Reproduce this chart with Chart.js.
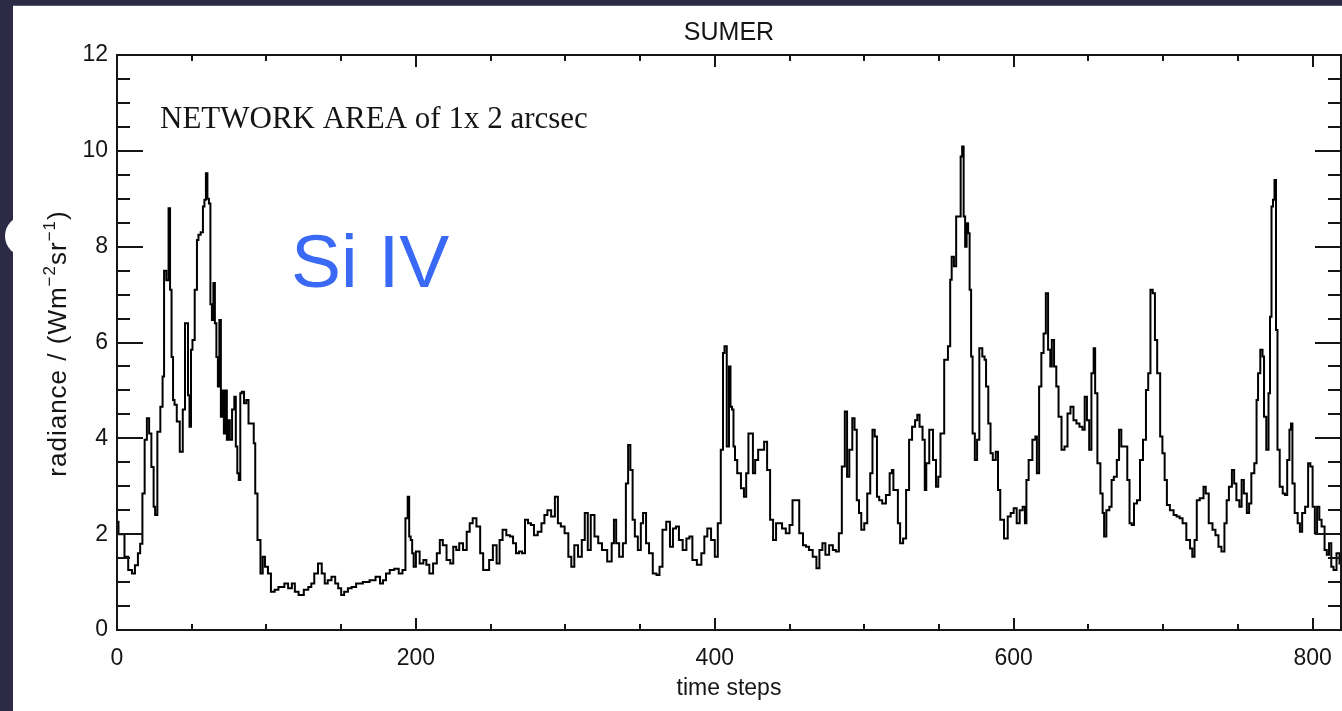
<!DOCTYPE html>
<html>
<head>
<meta charset="utf-8">
<title>SUMER Si IV network radiance</title>
<script src="https://cdn.jsdelivr.net/npm/chart.js@4.4.1/dist/chart.umd.min.js"></script>
<style>
  html, body { margin: 0; padding: 0; width: 1342px; height: 711px; overflow: hidden; background: #2c2a45; }
  #panel { position: absolute; left: 13px; top: 5px; right: 0; bottom: 0; background: #fff; border-top: 1px solid #5b5979; }
  #bump { position: absolute; left: 5px; top: 216px; width: 30px; height: 40px; background: #fff; border-radius: 20px 0 0 20px; }
  #wrap { position: absolute; left: 0; top: 0; width: 1342px; height: 711px; }
</style>
</head>
<body>
<div id="panel"></div>
<div id="bump"></div>
<div id="wrap"><canvas id="c" width="1342" height="711"></canvas></div>
<script>
// values (time step, radiance W m-2 sr-1)
const timeSteps = [
  0, 2, 4, 6, 9, 11, 13, 15, 16, 18, 19, 21, 22, 24, 25, 26, 28, 30, 31, 32,
  34, 35, 36, 37, 38, 39, 41, 43, 45, 46, 47, 48, 49, 50, 51, 53, 54, 55, 57, 58,
  59, 60, 61, 62, 63, 64, 65, 66, 67, 68, 69, 70, 71, 72, 73, 74, 75, 76, 78, 79,
  80, 81, 82, 83, 84, 86, 87, 89, 91, 92, 93, 95, 97, 98, 100, 102, 104, 107, 109, 111,
  113, 116, 118, 120, 123, 127, 129, 131, 133, 136, 138, 140, 142, 145, 147, 149, 151, 153, 156, 158,
  162, 167, 171, 175, 177, 179, 181, 184, 187, 190, 192, 194, 195, 196, 197, 198, 199, 201, 204, 206,
  208, 210, 213, 215, 217, 219, 222, 224, 226, 228, 230, 233, 235, 237, 239, 242, 244, 246, 248, 250,
  253, 255, 257, 259, 262, 264, 266, 268, 270, 272, 274, 276,
  278, 280, 283, 285, 287, 289, 292, 294, 296, 298, 301, 303, 305, 307, 310, 312, 314, 316, 318, 321,
  323, 326, 330, 332, 333, 335, 337, 340, 341, 343, 344, 346, 347, 350, 351, 353, 355, 357, 360, 362,
  364, 366, 369, 371, 373, 375, 377, 380, 382, 384, 386, 390, 392, 394, 396, 399, 401, 403, 405, 406,
  407, 409, 410, 411, 412, 413, 414, 416, 419, 420, 422, 423, 425, 426, 428, 430, 432, 434, 436, 438,
  440, 442, 444, 446, 449, 451, 453, 455, 458, 460, 462, 464, 467, 469, 471, 473, 475, 478, 480, 482,
  484, 486, 488, 489, 491, 493, 494, 496, 497, 499, 501, 503, 505, 506, 508, 509, 511, 513, 516, 518,
  519, 520, 522, 523, 525, 527, 529, 531, 533, 535, 536, 538, 540, 541, 542, 545, 547, 549,
  550, 552, 555, 557, 558, 559, 561, 562, 564, 565, 566, 567, 568, 569, 570, 571, 572, 573, 575, 576,
  578, 580, 581, 582, 584, 585, 587, 589, 590, 592, 595, 597, 599, 601, 603, 605, 607, 608, 609, 611,
  614, 615, 616, 618, 619, 621, 622, 624, 625, 626, 628, 629, 631, 633, 635, 637, 639, 641, 643, 645,
  647, 648, 650, 651, 653, 654, 655, 657, 659, 660, 661, 663, 665, 666, 668, 670, 671, 673, 675, 677,
  678, 680, 681, 684, 685, 688, 689, 691, 692, 694, 695, 697, 699, 700, 702, 703, 706, 708, 710, 712,
  714, 717, 719, 720, 722, 723, 726, 728, 729, 732, 734, 736, 738, 740, 742, 743, 745, 747, 748, 750,
  752, 753, 755, 757, 758, 760, 762, 763, 764, 766, 767, 768, 770, 771, 772, 773, 774, 775, 776, 777,
  779, 781, 782, 784, 785, 786, 787, 789, 791, 792, 794, 796, 798, 799, 801, 802, 804, 805, 807, 809,
  810, 812, 813, 815, 817, 819
];
const radiance = [
  2.26, 2.0, 2.0, 1.53, 1.25, 1.18, 1.35, 1.6, 1.8, 2.85, 3.97, 4.42, 4.1, 3.4, 2.57, 2.4, 4.14, 4.66, 5.29, 7.5,
  7.3, 8.8, 7.1, 5.7, 4.8, 4.7, 4.35, 3.72, 4.6, 6.4, 6.4, 4.9, 4.24, 5.85, 6.05, 7.1, 8.14, 8.25, 8.3, 8.84,
  8.98, 9.53, 9.0, 8.9, 6.8, 6.47, 7.24, 6.4, 5.7, 5.08, 6.47, 4.45, 5.0, 4.1, 5.0, 3.97, 4.38, 3.97, 4.6, 4.87,
  3.83, 3.27, 3.13, 4.94, 4.97, 4.73, 4.8, 4.31, 4.31, 3.9, 2.85, 1.88, 1.18, 1.53, 1.32, 1.18, 0.8, 0.84, 0.9, 0.9,
  0.97, 0.87, 0.97, 0.8, 0.73, 0.84, 0.9, 0.97, 1.18, 1.39, 1.18, 0.97, 1.04, 1.11, 0.97, 0.87, 0.73, 0.8, 0.87, 0.9,
  0.97, 1.0, 1.04, 1.11, 0.97, 1.04, 1.18, 1.25, 1.28, 1.18, 1.25, 2.33, 2.78, 1.95, 1.88, 1.6, 1.32, 1.64, 1.39, 1.46,
  1.36, 1.18, 1.39, 1.6, 1.88, 1.77, 1.46, 1.39, 1.74, 1.67, 1.81, 1.67, 2.05, 2.23, 2.33, 2.16, 1.6, 1.25, 1.25, 1.46,
  1.77, 1.39, 1.88, 2.09, 1.98, 1.95, 1.81, 1.6, 1.64, 1.6, 2.3, 2.23,
  2.19, 1.98, 2.05, 2.23, 2.4, 2.5, 2.37, 2.78, 2.23, 2.16, 2.02, 1.53, 1.32, 1.77, 1.53, 1.88, 2.44, 1.67, 2.4, 1.95,
  1.81, 1.67, 1.43, 1.81, 2.3, 1.81, 1.53, 1.81, 3.06, 3.86, 3.34, 2.3, 1.95, 1.67, 2.23, 2.44, 1.81, 1.6, 1.18, 1.15,
  1.32, 2.09, 2.26, 1.74, 2.12, 2.16, 1.88, 1.67, 1.91, 1.95, 1.46, 1.36, 1.6, 1.95, 2.12, 1.88, 1.53, 2.23, 3.76, 5.78,
  5.92, 3.83, 5.5, 4.66, 4.6, 3.83, 3.55, 3.27, 2.96, 2.78, 3.27, 4.1, 4.1, 3.27, 3.55, 3.76, 3.76, 3.93, 3.34, 2.3,
  1.88, 2.23, 2.23, 2.12, 2.02, 2.19, 2.71, 2.71, 2.02, 1.77, 1.74, 1.67, 1.53, 1.29, 1.67, 1.81, 1.57, 1.77, 1.67, 1.64,
  2.02, 3.41, 4.56, 3.2, 3.76, 4.42, 4.18, 2.71, 2.44, 2.09, 2.23, 2.85, 3.27, 4.18, 4.04, 2.78, 2.71, 2.64, 2.82, 3.27,
  3.34, 2.92, 2.92, 2.23, 1.81, 1.91, 2.92, 3.97, 4.24, 4.38, 4.49, 4.24, 3.97, 2.92, 3.48, 4.18, 3.55, 2.99,
  3.2, 4.1, 5.64, 5.92, 7.31, 7.79, 7.59, 8.63, 8.63, 9.88, 10.09, 8.63, 8.0, 8.49, 8.28, 7.1, 5.71, 4.1, 3.55, 3.97,
  5.88, 5.71, 5.64, 5.08, 4.31, 3.69, 3.55, 3.72, 2.92, 2.3, 1.91, 2.37, 2.44, 2.54, 2.23, 2.5, 2.57, 2.23, 3.13, 3.55,
  3.97, 4.04, 3.27, 5.08, 5.78, 6.19, 7.03, 5.85, 5.5, 6.05, 5.5, 5.08, 4.45, 3.76, 3.83, 4.52, 4.66, 4.38, 4.31, 4.24,
  4.18, 4.87, 4.38, 3.76, 5.36, 5.88, 4.94, 3.48, 2.85, 2.44, 1.95, 2.5, 2.57, 3.13, 3.2, 3.55, 4.18, 3.83, 3.83, 3.13,
  2.23, 2.19, 2.64, 2.71, 3.55, 3.97, 5.01, 5.36, 7.1, 7.03, 6.05, 5.36, 4.04, 3.69, 3.13, 2.61, 2.5, 2.4, 2.37, 2.33,
  2.23, 1.88, 1.7, 1.53, 1.88, 2.71, 2.75, 2.99, 2.85, 2.23, 2.09, 1.98, 1.74, 1.64, 2.23, 2.71, 2.99, 3.34, 3.06, 2.71,
  2.57, 3.13, 2.85, 2.44, 2.64, 3.27, 3.48, 4.8, 5.36, 5.85, 5.71, 4.45, 3.76, 4.94, 6.54, 8.84, 8.98, 9.39, 6.26, 3.76,
  2.99, 2.85, 2.82, 3.55, 4.18, 4.31, 3.06, 2.44, 2.23, 2.05, 2.44, 2.57, 3.48, 3.41, 2.57, 2.02, 2.57, 2.3, 2.16, 1.67,
  1.57, 1.81, 1.32, 1.25, 1.6, 1.39
];
const xTicks = [0, 200, 400, 600, 800];
const yTicks = [0, 2, 4, 6, 8, 10, 12];
const X_MAX = 819;
const X_MINOR = 50;
const Y_MINOR = 0.5;

const INK = '#151515';
const LABEL_FONT = { family: "'Liberation Sans', Arial, sans-serif", size: 23 };

// IDL style box: axes on four sides, ticks pointing inwards, plus the annotations
const sumerFrame = {
  id: 'sumerFrame',
  afterDraw(chart) {
    const { ctx, chartArea: a, scales: { x, y } } = chart;
    ctx.save();
    ctx.strokeStyle = INK;
    ctx.lineWidth = 2;
    ctx.strokeRect(a.left, a.top, a.right - a.left, a.bottom - a.top);

    ctx.beginPath();
    for (let v = 0; v <= X_MAX; v += X_MINOR) {
      const px = Math.round(x.getPixelForValue(v));
      const len = xTicks.includes(v) ? 12 : 6;
      ctx.moveTo(px, a.bottom); ctx.lineTo(px, a.bottom - len);
      ctx.moveTo(px, a.top); ctx.lineTo(px, a.top + len);
    }
    for (let v = 0; v <= 12; v += Y_MINOR) {
      const py = Math.round(y.getPixelForValue(v));
      const len = yTicks.includes(v) ? 26 : 13;
      ctx.moveTo(a.left, py); ctx.lineTo(a.left + len, py);
      ctx.moveTo(a.right, py); ctx.lineTo(a.right - len, py);
    }
    ctx.stroke();

    ctx.fillStyle = INK;
    ctx.textAlign = 'center';
    ctx.textBaseline = 'middle';
    ctx.font = "25px 'Liberation Sans', Arial, sans-serif";
    ctx.fillText('SUMER', (a.left + a.right) / 2, 33);

    ctx.textAlign = 'left';
    ctx.textBaseline = 'alphabetic';
    ctx.font = "31px 'Liberation Serif', 'Times New Roman', serif";
    ctx.fillText('NETWORK AREA of 1x 2 arcsec', 160, 128);

    ctx.fillStyle = '#3a6af5';
    ctx.font = "75px 'Liberation Sans', Arial, sans-serif";
    ctx.fillText('Si IV', 291, 287);

    // rotated y title with superscripts
    const parts = [
      ['radiance / (Wm', 26, 0],
      ['\u22122', 17, 11],
      ['sr', 26, 0],
      ['\u22121', 17, 11],
      [')', 26, 0]
    ];
    ctx.translate(66, (a.top + a.bottom) / 2 + 1);
    ctx.rotate(-Math.PI / 2);
    ctx.fillStyle = INK;
    ctx.letterSpacing = '1px';
    let total = 0;
    parts.forEach(p => {
      ctx.font = p[1] + "px 'Liberation Sans', Arial, sans-serif";
      total += ctx.measureText(p[0]).width;
    });
    let cx = -total / 2;
    parts.forEach(p => {
      ctx.font = p[1] + "px 'Liberation Sans', Arial, sans-serif";
      ctx.fillText(p[0], cx, -p[2]);
      cx += ctx.measureText(p[0]).width;
    });
    ctx.restore();
  }
};

new Chart(document.getElementById('c'), {
  type: 'line',
  data: {
    datasets: [{
      data: timeSteps.map((t, i) => ({ x: t, y: radiance[i] })),
      borderColor: '#000',
      borderWidth: 2,
      pointRadius: 0,
      stepped: 'middle',
      fill: false
    }]
  },
  options: {
    responsive: false,
    animation: false,
    layout: { padding: { left: 0, top: 55, right: 1, bottom: 0 } },
    plugins: { legend: { display: false }, tooltip: { enabled: false } },
    scales: {
      x: {
        type: 'linear',
        min: 0,
        max: X_MAX,
        grid: { display: false, drawTicks: false },
        border: { display: false },
        ticks: { padding: 15, color: INK, font: LABEL_FONT, maxRotation: 0, autoSkip: false, includeBounds: false },
        afterBuildTicks(s) { s.ticks = xTicks.map(v => ({ value: v })); },
        afterFit(s) { s.height = 81; s.paddingLeft = 0; s.paddingRight = 0; },
        title: { display: true, text: 'time steps', color: INK, font: LABEL_FONT, padding: { top: 0, bottom: 9 } }
      },
      y: {
        min: 0,
        max: 12,
        grid: { display: false, drawTicks: false },
        border: { display: false },
        ticks: { padding: 9, color: INK, font: LABEL_FONT, autoSkip: false, includeBounds: false },
        afterBuildTicks(s) { s.ticks = yTicks.map(v => ({ value: v })); },
        afterFit(s) { s.width = 117; s.paddingTop = 0; s.paddingBottom = 0; }
      }
    }
  },
  plugins: [sumerFrame]
});
</script>
</body>
</html>
